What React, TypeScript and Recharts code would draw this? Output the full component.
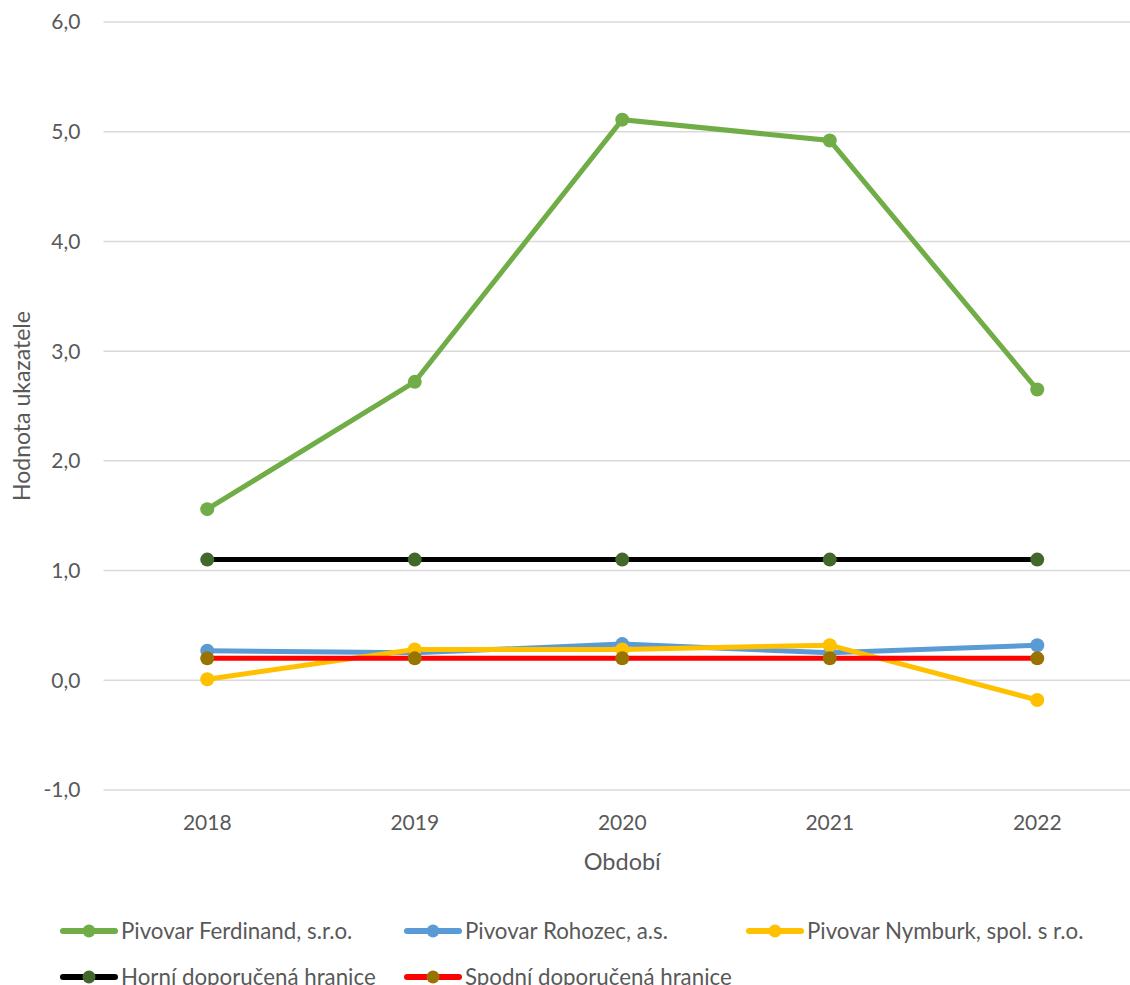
import React from "react";
import {
  CartesianGrid,
  Label,
  Legend,
  Line,
  LineChart,
  XAxis,
  YAxis,
} from "recharts";

const years = ["2018", "2019", "2020", "2021", "2022"];
const ferdinand = [1.56, 2.72, 5.11, 4.92, 2.65];
const rohozec = [0.27, 0.25, 0.33, 0.25, 0.32];
const nymburk = [0.01, 0.28, 0.28, 0.32, -0.18];
const horni = [1.1, 1.1, 1.1, 1.1, 1.1];
const spodni = [0.2, 0.2, 0.2, 0.2, 0.2];
const yTicks = [-1, 0, 1, 2, 3, 4, 5, 6];

const data = years.map((y, i) => ({
  year: y,
  ferdinand: ferdinand[i],
  rohozec: rohozec[i],
  nymburk: nymburk[i],
  horni: horni[i],
  spodni: spodni[i],
}));

const FONT = "Lato, 'Open Sans', sans-serif";
const TEXT = "#595959";

const series = [
  { key: "ferdinand", name: "Pivovar Ferdinand, s.r.o.", line: "#70AD47", dot: "#70AD47" },
  { key: "rohozec", name: "Pivovar Rohozec, a.s.", line: "#5B9BD5", dot: "#5B9BD5" },
  { key: "nymburk", name: "Pivovar Nymburk, spol. s r.o.", line: "#FFC000", dot: "#FFC000" },
  { key: "horni", name: "Horní doporučená hranice", line: "#000000", dot: "#43682B" },
  { key: "spodni", name: "Spodní doporučená hranice", line: "#FF0000", dot: "#997300" },
];

// legend item positions (Excel packs them in two rows)
const legendPos = [
  { x: 60, y: 0 },
  { x: 404, y: 0 },
  { x: 746, y: 0 },
  { x: 60, y: 46 },
  { x: 404, y: 46 },
];

const fmt = (v: number) => v.toFixed(1).replace(".", ",");

const CustomLegend = () => (
  <div style={{ position: "relative", width: 1130, height: 80 }}>
    {series.map((s, i) => (
      <div
        key={s.key}
        style={{
          position: "absolute",
          left: legendPos[i].x,
          top: legendPos[i].y,
          display: "flex",
          alignItems: "center",
          fontFamily: FONT,
          fontSize: 22.3,
          color: TEXT,
          whiteSpace: "nowrap",
          lineHeight: "28px",
        }}
      >
        <svg width={58} height={16} style={{ marginRight: 3 }}>
          <line x1={3} y1={8} x2={55} y2={8} stroke={s.line} strokeWidth={6} strokeLinecap="round" />
          <circle cx={29} cy={8} r={6.5} fill={s.dot} />
        </svg>
        <span>{s.name}</span>
      </div>
    ))}
  </div>
);

const YTitle = (props: any) => {
  const vb = props.viewBox || { x: 0, y: 0, height: 0 };
  const cx = vb.x + 21;
  const cy = vb.y + vb.height / 2;
  return (
    <text
      x={cx}
      y={cy}
      transform={`rotate(-90 ${cx} ${cy})`}
      textAnchor="middle"
      dominantBaseline="central"
      fill={TEXT}
      fontFamily={FONT}
      fontSize={23}
    >
      Hodnota ukazatele
    </text>
  );
};

const XTitle = (props: any) => {
  const vb = props.viewBox || { x: 0, y: 0, width: 0 };
  return (
    <text
      x={vb.x + vb.width / 2}
      y={vb.y + 71}
      textAnchor="middle"
      dominantBaseline="central"
      fill={TEXT}
      fontFamily={FONT}
      fontSize={23.5}
    >
      Období
    </text>
  );
};

export default function App() {
  return (
    <div
      style={{
        position: "absolute",
        left: 0,
        top: 0,
        width: 1130,
        height: 985,
        overflow: "hidden",
        background: "#fff",
      }}
    >
      <LineChart
        width={1150}
        height={985}
        data={data}
        margin={{ top: 22, right: 9, left: 0, bottom: 115 }}
      >
        <CartesianGrid vertical={false} stroke="#D9D9D9" strokeWidth={1.5} />
        <XAxis
          dataKey="year"
          axisLine={false}
          tickLine={false}
          tickSize={0}
          tickMargin={25}
          height={80}
          padding={{ left: 103.75, right: 103.75 }}
          tick={{ fill: TEXT, fontSize: 21, fontFamily: FONT }}
        >
          <Label content={XTitle} />
        </XAxis>
        <YAxis
          domain={[-1, 6]}
          ticks={yTicks}
          tickFormatter={fmt}
          axisLine={false}
          tickLine={false}
          tickSize={0}
          tickMargin={23}
          width={103.5}
          tick={{ fill: TEXT, fontSize: 21, fontFamily: FONT }}
        >
          <Label content={YTitle} />
        </YAxis>
        <Legend
          layout="horizontal"
          verticalAlign="middle"
          align="center"
          content={<CustomLegend />}
          wrapperStyle={{ left: 0, top: 917, width: 1130, height: 80 }}
        />
        {series.map((s) => (
          <Line
            key={s.key}
            type="linear"
            dataKey={s.key}
            name={s.name}
            stroke={s.line}
            strokeWidth={5}
            dot={{ r: 7, fill: s.dot, stroke: s.dot, strokeWidth: 0 }}
            activeDot={false}
            isAnimationActive={false}
          />
        ))}
      </LineChart>
    </div>
  );
}
